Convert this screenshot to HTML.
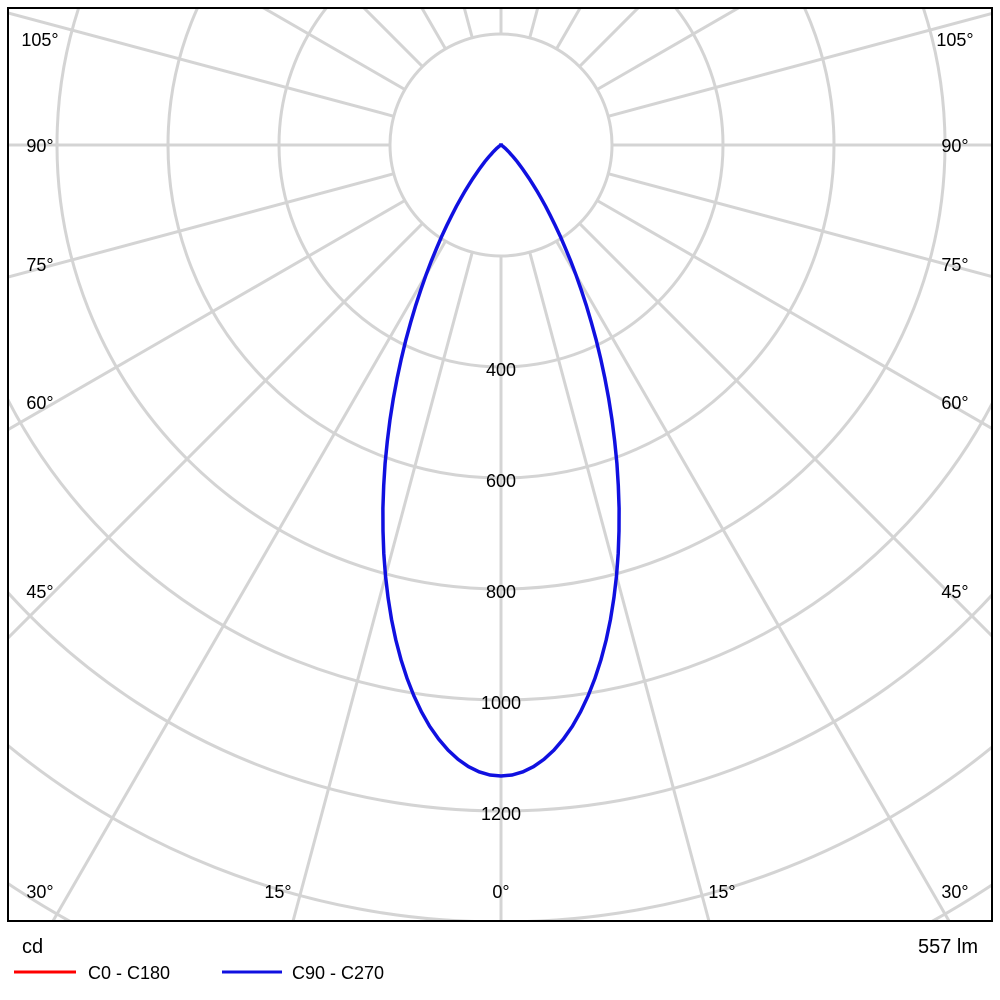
<!DOCTYPE html>
<html><head><meta charset="utf-8"><style>
html,body{margin:0;padding:0;background:#fff;width:1000px;height:1000px;overflow:hidden}
svg{display:block}
text{font-family:"Liberation Sans",Arial,sans-serif;font-size:18px;fill:#000}
</style></head><body>
<svg id="s" width="1000" height="1000" xmlns="http://www.w3.org/2000/svg">
<defs><clipPath id="c"><rect x="8" y="8" width="984" height="913"/></clipPath></defs>
<rect x="0" y="0" width="1000" height="1000" fill="#fff"/>
<g id="grid" clip-path="url(#c)" stroke="#d4d4d4" stroke-width="3" fill="none"></g>
<g id="lbl"></g>
<path id="curve" fill="none" stroke="#1010e0" stroke-width="3.5" clip-path="url(#c)"/>
<rect x="8" y="8" width="984" height="913" fill="none" stroke="#000" stroke-width="2"/>
<text x="22" y="953" style="font-size:20px">cd</text>
<text x="978" y="953" text-anchor="end" style="font-size:20px">557 lm</text>
<line x1="14" y1="972" x2="76" y2="972" stroke="#ff0000" stroke-width="3"/>
<text x="88" y="979">C0 - C180</text>
<line x1="222" y1="972" x2="282" y2="972" stroke="#1010e0" stroke-width="3"/>
<text x="292" y="979">C90 - C270</text>
</svg>
<script>
var cx=501,cy=145,u=111,NS="http://www.w3.org/2000/svg";
var g=document.getElementById('grid'),l=document.getElementById('lbl');
function el(p,t,a){var e=document.createElementNS(NS,t);for(var k in a)e.setAttribute(k,a[k]);p.appendChild(e);return e;}
for(var k=1;k<=9;k++)el(g,'circle',{cx:cx,cy:cy,r:k*u});
for(var a=0;a<360;a+=15){var r=a*Math.PI/180,s=Math.sin(r),c=Math.cos(r);
el(g,'line',{x1:cx+u*s,y1:cy+u*c,x2:cx+1500*s,y2:cy+1500*c});}
var vals=[[400,369],[600,480],[800,591],[1000,702],[1200,813]];
vals.forEach(function(v){var t=el(l,'text',{x:501,y:v[1]+7,'text-anchor':'middle'});t.textContent=v[0];});
var al=[["105°",39],["90°",145],["75°",264],["60°",402],["45°",591],["30°",891]];
al.forEach(function(v){var t=el(l,'text',{x:40,y:v[1]+7,'text-anchor':'middle'});t.textContent=v[0];
t=el(l,'text',{x:955,y:v[1]+7,'text-anchor':'middle'});t.textContent=v[0];});
[["15°",278],["0°",501],["15°",722]].forEach(function(v){var t=el(l,'text',{x:v[1],y:898,'text-anchor':'middle'});t.textContent=v[0];});
var d="";for(var i=-90;i<=90;i+=1){var r=i*Math.PI/180,c=Math.cos(r);var I=1137*Math.pow(Math.max(c,0),10);var R=I/200*u;
var x=cx+R*Math.sin(r),y=cy+R*c;d+=(d?"L":"M")+x.toFixed(1)+" "+y.toFixed(1);}
document.getElementById('curve').setAttribute('d',d);
</script>
</body></html>
